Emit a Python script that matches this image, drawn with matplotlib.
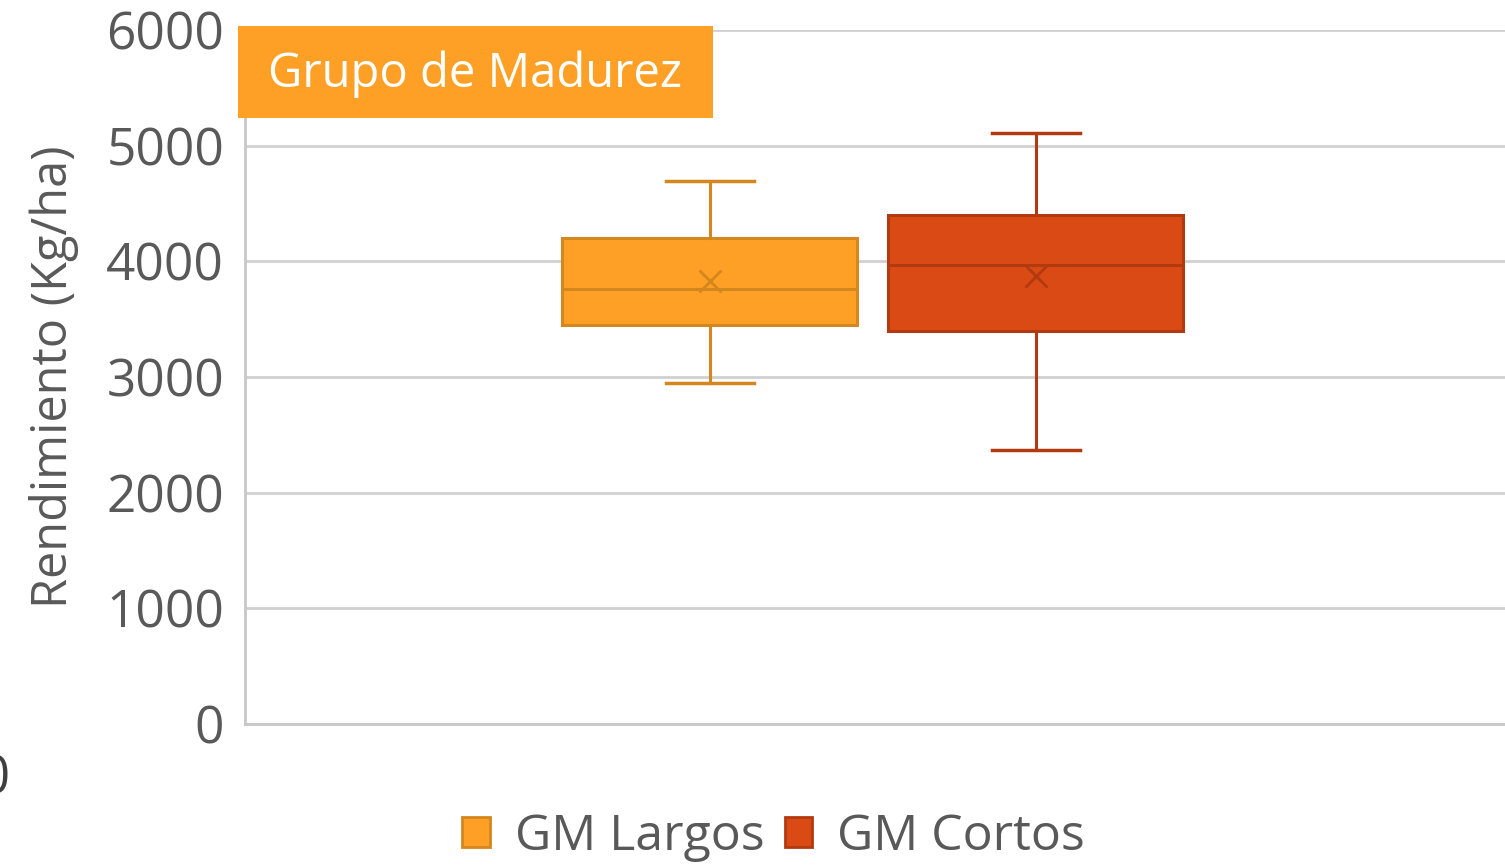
import matplotlib.pyplot as plt
from matplotlib.patches import Rectangle, Patch

plt.rcParams['font.family'] = ['Open Sans', 'DejaVu Sans']

# summary values (Kg/ha)
series = ["GM Largos", "GM Cortos"]
whislo = [2950, 2370]
q1 = [3452, 3400]
med = [3763, 3971]
q3 = [4204, 4403]
whishi = [4697, 5112]
means = [3832, 3875]

fills = ["#FFA026", "#DA4A14"]
edges = ["#D4861F", "#B23A10"]
yticks = [0, 1000, 2000, 3000, 4000, 5000, 6000]

fig = plt.figure(figsize=(15.05, 8.65), dpi=100)
ax = fig.add_axes([0.1628, 0.163, 0.8372, 0.8023])

for i in range(len(series)):
    st = [dict(whislo=whislo[i], q1=q1[i], med=med[i], q3=q3[i],
               whishi=whishi[i], mean=means[i], fliers=[], label=series[i])]
    ax.bxp(st, positions=[i], widths=0.905, showmeans=True, patch_artist=True,
           boxprops=dict(facecolor=fills[i], edgecolor=edges[i], linewidth=2.2),
           medianprops=dict(color=edges[i], linewidth=2.2),
           whiskerprops=dict(color=edges[i], linewidth=2.2),
           capprops=dict(color=edges[i], linewidth=2.5),
           meanprops=dict(marker='x', markeredgecolor=edges[i], markersize=16,
                          markeredgewidth=2),
           capwidths=0.27, zorder=3)

ax.set_xlim(-1.426, 2.439)
ax.set_ylim(0, 6000)
ax.set_yticks(yticks)
ax.set_yticklabels([str(v) for v in yticks])
ax.set_xticks([])
ax.tick_params(axis='y', length=0, pad=15, labelsize=37, labelcolor='#595959')
ax.yaxis.grid(True, color='#D0D0D0', linewidth=2)
ax.set_axisbelow(True)
for s in ['top', 'right']:
    ax.spines[s].set_visible(False)
for s in ['left', 'bottom']:
    ax.spines[s].set_color('#C8C8C8')
    ax.spines[s].set_linewidth(2)
ax.set_ylabel("Rendimiento (Kg/ha)", fontsize=35, color='#595959', labelpad=20)

# title box
fig.patches.append(Rectangle((0.1581, 0.8636), 0.3156, 0.1064, transform=fig.transFigure,
                             facecolor='#FFA026', edgecolor='none', zorder=5))
fig.text(0.3156, 0.914, "Grupo de Madurez", color='white', fontsize=34,
         ha='center', va='center', zorder=6)

# stray clipped glyph at the left edge
fig.text(-0.004, 0.098, "0", fontsize=38, color='#404040', ha='center', va='center')

handles = [Patch(facecolor=fills[i], edgecolor=edges[i], linewidth=2) for i in range(2)]
fig.legend(handles, series, loc='center', bbox_to_anchor=(0.514, 0.032), ncol=2,
           frameon=False, fontsize=36, labelcolor='#595959', handlelength=0.55,
           handleheight=0.55, handletextpad=0.5, columnspacing=0.4)

fig.savefig("out.png", dpi=100)
